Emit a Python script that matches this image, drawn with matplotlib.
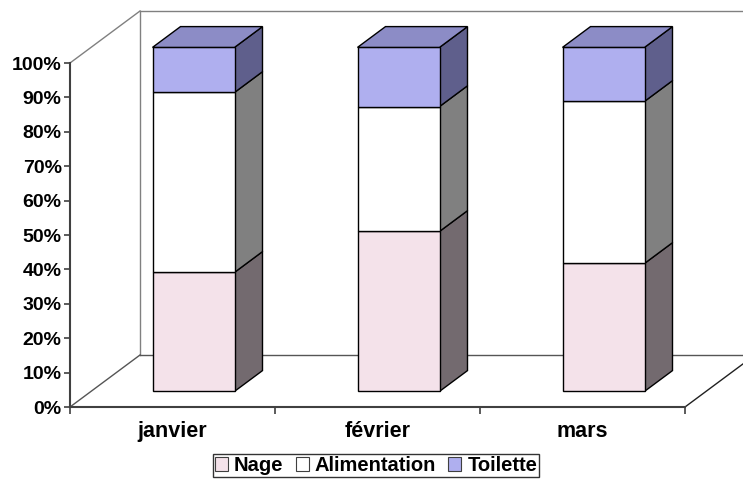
import numpy as np
import matplotlib
matplotlib.use("Agg")
import matplotlib.pyplot as plt
from matplotlib.patches import Polygon, Patch
from matplotlib.ticker import FuncFormatter, FixedLocator

plt.rcParams['font.family'] = ['Liberation Sans', 'DejaVu Sans']
plt.rcParams['font.weight'] = 'bold'

months = ['janvier', 'février', 'mars']
series = ['Nage', 'Alimentation', 'Toilette']
nage = [0.346, 0.465, 0.372]
alimentation = [0.523, 0.363, 0.471]
toilette = [0.131, 0.172, 0.157]

front_colors = ['#f4e2ea', '#ffffff', '#afafef']
side_colors = ['#736a6f', '#808080', '#5f5f8c']
top_color = '#8c8cc6'

# depth of the 3d box in data units (x: categories, y: fraction)
DX = 70 / 205
DY = 52 / 344
bar_w = 0.4
d_front, d_back = 0.3, 0.7

fig = plt.figure(figsize=(7.43, 4.80), dpi=100)
ax = fig.add_axes([70 / 743, (480 - 407) / 480, 615 / 743, 344 / 480])
ax.set_xlim(0, 3)
ax.set_ylim(0, 1)


def proj(x, y, d):
    return (x + d * DX, y + d * DY)


# walls and floor
wall = dict(color='#808080', lw=1.0, clip_on=False, zorder=1)
ax.plot(*zip(proj(0, 0, 1), proj(0, 1, 1)), **wall)
ax.plot(*zip(proj(0, 1, 0), proj(0, 1, 1)), **wall)
ax.plot(*zip(proj(0, 1, 1), proj(3, 1, 1)), **wall)
floor = dict(color='#555555', lw=1.0, clip_on=False, zorder=1)
ax.plot(*zip(proj(0, 0, 0), proj(0, 0, 1)), **floor)
ax.plot(*zip(proj(0, 0, 1), proj(3, 0, 1)), **floor)
ax.plot(*zip(proj(3, 0, 0), proj(3, 0, 1)), color='#202020', lw=1.0,
        clip_on=False, zorder=1)

# stacked 3d bars
stack = np.array([nage, alimentation, toilette])
for i in range(len(months)):
    x0 = i + 0.5 - bar_w / 2
    x1 = x0 + bar_w
    base = 0.0
    for k in range(len(series)):
        top = base + stack[k, i]
        front = [proj(x0, base, d_front), proj(x1, base, d_front),
                 proj(x1, top, d_front), proj(x0, top, d_front)]
        side = [proj(x1, base, d_front), proj(x1, base, d_back),
                proj(x1, top, d_back), proj(x1, top, d_front)]
        ax.add_patch(Polygon(side, closed=True, fc=side_colors[k], ec='black',
                             lw=1.0, clip_on=False, zorder=3))
        ax.add_patch(Polygon(front, closed=True, fc=front_colors[k], ec='black',
                             lw=1.0, clip_on=False, zorder=4))
        base = top
    lid = [proj(x0, base, d_front), proj(x1, base, d_front),
           proj(x1, base, d_back), proj(x0, base, d_back)]
    ax.add_patch(Polygon(lid, closed=True, fc=top_color, ec='black',
                         lw=1.0, clip_on=False, zorder=4))

# axes
for s in ['top', 'right']:
    ax.spines[s].set_visible(False)
for s in ['left', 'bottom']:
    ax.spines[s].set_color('#404040')
    ax.spines[s].set_linewidth(1.5)
    ax.spines[s].set_zorder(5)

ax.yaxis.set_major_locator(FixedLocator(np.arange(0, 1.01, 0.1)))
ax.yaxis.set_major_formatter(FuncFormatter(lambda v, p: f"{v:.0%}"))
ax.tick_params(axis='y', direction='out', length=4, width=1.2,
               color='#404040', pad=2, labelsize=14)
for t in ax.get_yticklabels():
    t.set_fontweight('bold')

ax.set_xticks([0.5, 1.5, 2.5])
ax.set_xticklabels(months, fontweight='bold', fontsize=15.5)
ax.set_xticks([0, 1, 2, 3], minor=True)
ax.tick_params(axis='x', which='major', length=0, pad=10)
ax.tick_params(axis='x', which='minor', direction='out', length=5,
               width=1.2, color='#404040')

handles = [Patch(fc=front_colors[k], ec='#404040', lw=0.8) for k in range(3)]
leg = fig.legend(handles, series, loc='lower center',
                 bbox_to_anchor=(376 / 743, 3 / 480), ncol=3,
                 frameon=True, fancybox=False, edgecolor='black',
                 handlelength=0.65, handleheight=0.65, handletextpad=0.3,
                 columnspacing=0.6, borderpad=0.1, borderaxespad=0,
                 prop=dict(weight='bold', size=14.5))
leg.get_frame().set_linewidth(1.0)

fig.savefig('out.png', dpi=100)
